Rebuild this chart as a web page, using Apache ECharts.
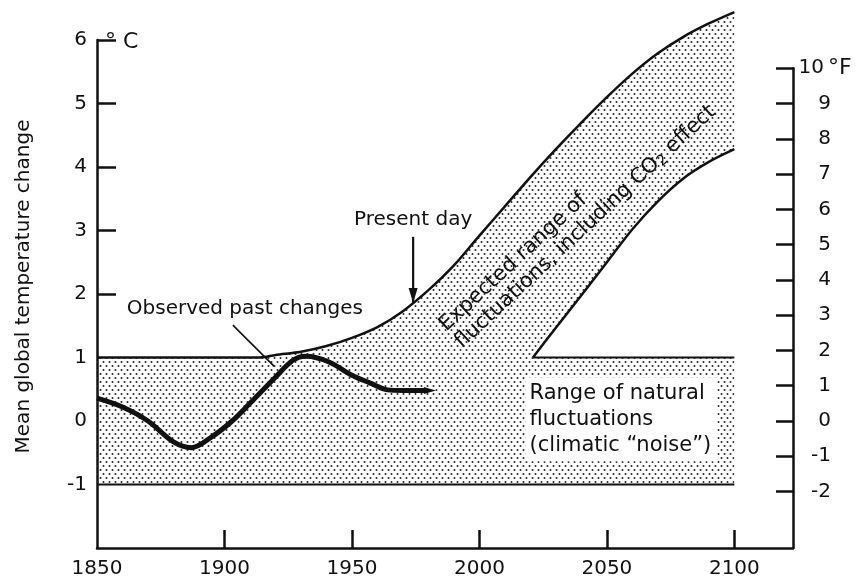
<!DOCTYPE html>
<html><head><meta charset="utf-8">
<script src="https://cdn.jsdelivr.net/npm/echarts@6/dist/echarts.min.js"></script>
<style>html,body{margin:0;padding:0;background:#fff}#c{width:859px;height:583px}</style>
</head><body><div id="c"></div>
<script>
// ---------------- data ----------------
const upperYears  = [1850, 1914, 1920, 1930, 1940, 1950, 1960, 1970, 1980, 1990, 2000, 2010, 2020, 2030, 2040, 2050, 2060, 2070, 2080, 2090, 2100];
const upperValues = [1.0, 1.0, 1.04, 1.09, 1.18, 1.31, 1.48, 1.73, 2.06, 2.45, 2.92, 3.38, 3.84, 4.28, 4.70, 5.10, 5.47, 5.79, 6.05, 6.26, 6.44];
const lowerYears  = [2021, 2030, 2040, 2050, 2060, 2070, 2080, 2090, 2100];
const lowerValues = [1.0, 1.47, 1.98, 2.50, 3.02, 3.46, 3.82, 4.08, 4.28];
const naturalYears = [1850, 2100];
const naturalTop = 1;
const naturalBottom = -1;
const observedYears  = [1850, 1860, 1870, 1880, 1887, 1895, 1903, 1910, 1920, 1927, 1932, 1941, 1950, 1957, 1964, 1970, 1979];
const observedValues = [0.36, 0.22, 0.0, -0.33, -0.42, -0.25, 0.0, 0.28, 0.69, 0.96, 1.02, 0.93, 0.72, 0.60, 0.49, 0.48, 0.48];
const presentDay = 1974;
const xTickLabels = [1850, 1900, 1950, 2000, 2050, 2100];
const xTickMarks  = [1900, 1950, 2000, 2050, 2100];
const cTickLabels = [-1, 0, 1, 2, 3, 4, 5, 6];
const cTickMarks  = [2, 3, 4, 5, 6];
const fTicks = [-2, -1, 0, 1, 2, 3, 4, 5, 6, 7, 8, 9, 10];

// ---------------- layout / style ----------------
const W = 859, H = 583;
const G = {left: 97, right: 66, top: 40, bottom: 35};
const C_MIN = -2, C_MAX = 6, X_MIN = 1850, X_MAX = 2123;
const F_PER_C = 1.8;
const FONT = 'DejaVu Sans';
const INK = '#111111';
const FS = 20;
const plotH = H - G.top - G.bottom;
const fMin = C_MIN * F_PER_C;
const fTop = fTicks[fTicks.length - 1];
const grid2Top = G.top + (C_MAX * F_PER_C - fTop) / ((C_MAX - C_MIN) * F_PER_C) * plotH;

// dot pattern
const pc = document.createElement('canvas');
pc.width = 6; pc.height = 8;
const pg = pc.getContext('2d');
pg.fillStyle = '#262626';
pg.beginPath(); pg.arc(1.5, 2, 1.0, 0, Math.PI * 2); pg.fill();
pg.beginPath(); pg.arc(4.5, 6, 1.0, 0, Math.PI * 2); pg.fill();
const dotPattern = {image: pc, repeat: 'repeat'};

const pair = (xs, ys) => xs.map((x, i) => [x, ys[i]]);
const upper = pair(upperYears, upperValues);
const lower = pair(lowerYears, lowerValues);
const observed = pair(observedYears, observedValues);
const polygonPts = [[naturalYears[0], naturalBottom]]
  .concat(upper)
  .concat(lower.slice().reverse())
  .concat([[naturalYears[1], naturalTop], [naturalYears[1], naturalBottom]]);

const txt = {fontFamily: FONT, fontSize: FS, color: INK};
const noteTxt = (extra) => Object.assign({show: true, opacity: 1, textBorderWidth: 0, fontFamily: FONT, fontSize: FS, color: INK, position: [0, 0]}, extra);
const lineBase = {type: 'line', symbol: 'none', silent: true, clip: false, xAxisIndex: 0, yAxisIndex: 0};

const chart = echarts.init(document.getElementById('c'), null, {renderer: 'canvas'});
chart.setOption({
  animation: false,
  backgroundColor: '#ffffff',
  grid: [
    Object.assign({outerBoundsMode: 'none'}, G),
    {outerBoundsMode: 'none', left: G.left, right: G.right, top: grid2Top, bottom: G.bottom}
  ],
  xAxis: [
    {type: 'value', gridIndex: 0, min: X_MIN, max: X_MAX, interval: 50,
     axisLine: {show: true, onZero: false, lineStyle: {color: INK, width: 2.5}},
     axisTick: {show: true, inside: true, length: 18, customValues: xTickMarks, lineStyle: {color: INK, width: 2.5}},
     axisLabel: Object.assign({show: true, margin: 11, customValues: xTickLabels, formatter: v => String(v)}, txt),
     splitLine: {show: false}},
    {type: 'value', gridIndex: 1, min: X_MIN, max: X_MAX, show: false}
  ],
  yAxis: [
    {type: 'value', gridIndex: 0, min: C_MIN, max: C_MAX, interval: 1,
     name: 'Mean global temperature change', nameLocation: 'middle', nameRotate: 90, nameGap: 63,
     nameTextStyle: Object.assign({padding: [0, 0, 0, 15]}, txt),
     axisLine: {show: true, onZero: false, lineStyle: {color: INK, width: 2.5}},
     axisTick: {show: true, inside: true, length: 19, customValues: cTickMarks, lineStyle: {color: INK, width: 2.5}},
     axisLabel: Object.assign({show: true, margin: 10, customValues: cTickLabels}, txt),
     splitLine: {show: false}},
    {type: 'value', gridIndex: 1, position: 'right', min: fMin, max: fTop,
     axisLine: {show: true, onZero: false, lineStyle: {color: INK, width: 2.5}},
     axisTick: {show: true, inside: true, length: 17, customValues: fTicks, lineStyle: {color: INK, width: 2.5}},
     axisLabel: Object.assign({show: true, margin: 38, align: 'right', customValues: fTicks,
        formatter: v => v === fTop ? '{n|' + v + '}{gap|}' : '{n|' + v + '}',
        rich: {n: txt, gap: {width: 7}}}, txt),
     splitLine: {show: false}}
  ],
  series: [
    {type: 'custom', xAxisIndex: 0, yAxisIndex: 0, data: [[X_MIN, C_MIN]], clip: false, silent: true, z: 1,
     renderItem: (params, api) => ({
       type: 'polygon',
       shape: {points: polygonPts.map(p => api.coord(p))},
       style: {fill: dotPattern, stroke: null}
     })},
    Object.assign({}, lineBase, {data: upper, smooth: 0.3, z: 3, lineStyle: {color: INK, width: 2.5}}),
    Object.assign({}, lineBase, {data: lower, smooth: 0.3, z: 3, lineStyle: {color: INK, width: 2.5}}),
    Object.assign({}, lineBase, {data: [[lowerYears[0], naturalTop], [naturalYears[1], naturalTop]], z: 3, lineStyle: {color: INK, width: 2.2}}),
    Object.assign({}, lineBase, {data: naturalYears.map(x => [x, naturalBottom]), z: 3, lineStyle: {color: INK, width: 2.2}}),
    Object.assign({}, lineBase, {
      data: observed.map((p, i) => i === observed.length - 1
        ? {value: p, symbol: 'triangle', symbolSize: [7, 12], symbolRotate: -90, symbolOffset: [4, 0]}
        : {value: p}),
      smooth: 0.35, z: 4, lineStyle: {color: INK, width: 5}, itemStyle: {color: INK}}),
    // pointer to observed curve
    Object.assign({}, lineBase, {data: [[1903.3, 1.51], [1919.5, 0.86]], z: 4, lineStyle: {color: INK, width: 1.6}}),
    // present day arrow
    Object.assign({}, lineBase, {
      data: [{value: [presentDay, 2.9]}, {value: [presentDay, 1.86], symbol: 'triangle', symbolSize: [9, 15], symbolRotate: 180, symbolOffset: [0, -7.5]}],
      z: 4, lineStyle: {color: INK, width: 2.2}, itemStyle: {color: INK}}),
    // text annotations (°C scale)
    {type: 'scatter', xAxisIndex: 0, yAxisIndex: 0, silent: true, z: 6, symbolSize: 0,
     itemStyle: {color: INK, opacity: 1},
     data: [
       {value: [1908, 1.76], label: noteTxt({formatter: 'Observed past changes', align: 'center', verticalAlign: 'middle'})},
       {value: [presentDay, 3.17], label: noteTxt({formatter: 'Present day', align: 'center', verticalAlign: 'middle'})},
       {value: [2018.1, 0.69], label: noteTxt({formatter: 'Range of natural\nfluctuations\n(climatic \u201cnoise\u201d)', align: 'left', verticalAlign: 'top',
          fontSize: 21, lineHeight: 26, backgroundColor: '#ffffff', padding: [3, 6, 3, 4]})},
       {value: [1982.5, 1.6], label: noteTxt({
          formatter: '{n|Expected range of}\n{n|fluctuations, including CO}{s|2}{n| effect}',
          align: 'left', verticalAlign: 'top', rotate: 42.8,
          rich: {n: Object.assign({}, txt, {fontSize: 21, lineHeight: 23}), s: Object.assign({}, txt, {fontSize: 15, lineHeight: 2, verticalAlign: 'bottom'})}})},
       {value: [X_MIN, C_MAX], label: noteTxt({formatter: '\u00b0 C', fontSize: 22, position: [8, 2], align: 'left', verticalAlign: 'middle'})}
     ]},
    // °F unit next to the top Fahrenheit label
    {type: 'scatter', xAxisIndex: 1, yAxisIndex: 1, silent: true, z: 6, symbolSize: 0,
     itemStyle: {color: INK, opacity: 1},
     data: [{value: [X_MAX, fTop], label: noteTxt({formatter: '\u00b0F', fontSize: 22, position: [35, 0], align: 'left', verticalAlign: 'middle'})}]}
  ]
});
</script></body></html>
